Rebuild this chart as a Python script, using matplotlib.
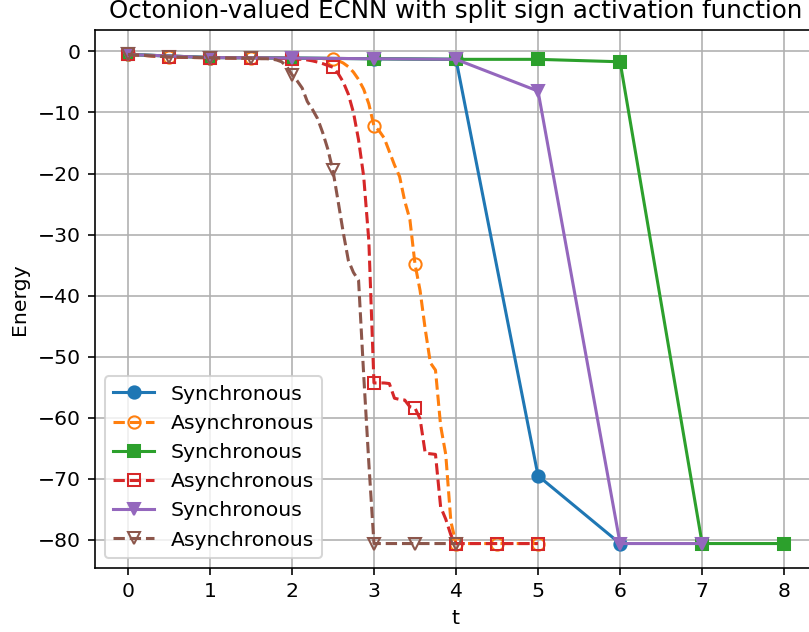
import numpy as np
import matplotlib
matplotlib.use("Agg")
import matplotlib.pyplot as plt

# synchronous updates: one value per time step
t_sync_1 = [0, 1, 2, 3, 4, 5, 6]
e_sync_1 = [-0.5, -1.0, -1.1, -1.2, -1.3, -69.5, -80.6]
t_sync_2 = [0, 1, 2, 3, 4, 5, 6, 7, 8]
e_sync_2 = [-0.5, -1.0, -1.1, -1.2, -1.3, -1.3, -1.7, -80.6, -80.6]
t_sync_3 = [0, 1, 2, 3, 4, 5, 6, 7]
e_sync_3 = [-0.5, -1.0, -1.1, -1.2, -1.3, -6.5, -80.6, -80.6]

# asynchronous updates: one value per neuron update (16 per time step)
steps_per_t = 16
e_async_1 = [-0.5, -0.55, -0.6, -0.65, -0.7, -0.75, -0.8, -0.85, -0.9,
             -0.92, -0.94, -0.96, -0.98, -1.0, -1.01, -1.02, -1.03,
             -1.04, -1.05, -1.06, -1.07, -1.08, -1.09, -1.1, -1.1,
             -1.11, -1.12, -1.13, -1.14, -1.15, -1.15, -1.16, -1.16,
             -1.17, -1.17, -1.18, -1.18, -1.19, -1.2, -1.22, -1.25,
             -1.5, -1.9, -2.5, -3.4, -4.6, -6.2, -8.6, -12.2,
             -13.0, -14.2, -16.4, -18.6, -20.5, -24.5, -27.5, -34.8,
             -39.2, -45.5, -51.0, -52.2, -61.3, -66.0, -77.0, -80.6] + [-80.6] * 16
e_async_2 = [-0.5, -0.55, -0.6, -0.65, -0.7, -0.75, -0.8, -0.85, -0.9,
             -0.92, -0.94, -0.96, -0.98, -1.0, -1.01, -1.02, -1.03,
             -1.04, -1.05, -1.06, -1.07, -1.08, -1.09, -1.1, -1.1,
             -1.11, -1.12, -1.13, -1.14, -1.15, -1.15, -1.16, -1.2,
             -1.25, -1.3, -1.4, -1.55, -1.75, -2.0, -2.3, -2.6,
             -3.6, -5.0, -7.0, -10.0, -14.5, -20.5, -31.0, -54.3,
             -54.3, -54.3, -54.4, -56.8, -57.0, -57.1, -58.2, -58.4,
             -60.2, -65.8, -65.9, -66.0, -74.6, -76.6, -79.2, -80.6] + [-80.6] * 16
e_async_3 = [-0.5, -0.55, -0.6, -0.65, -0.7, -0.75, -0.8, -0.85, -0.9,
             -0.92, -0.94, -0.96, -0.98, -1.0, -1.01, -1.02, -1.03,
             -1.04, -1.05, -1.06, -1.07, -1.08, -1.09, -1.1, -1.1,
             -1.15, -1.2, -1.2, -1.25, -1.4, -1.7, -2.5, -3.8,
             -4.8, -6.0, -8.2, -9.5, -11.0, -13.3, -16.0, -19.5,
             -24.5, -29.6, -34.2, -36.2, -37.5, -53.0, -67.4, -80.6] + [-80.6] * 16

t_async_1 = np.arange(len(e_async_1)) / steps_per_t
t_async_2 = np.arange(len(e_async_2)) / steps_per_t
t_async_3 = np.arange(len(e_async_3)) / steps_per_t

dpi = 147
fig = plt.figure(figsize=(809 / dpi, 632 / dpi), dpi=dpi)
ax = fig.add_axes([95 / 809, 1 - 568 / 632, 722 / 809, 538 / 632])

mk = steps_per_t // 2
ax.plot(t_sync_1, e_sync_1, '-', color='C0', marker='o', label='Synchronous')
ax.plot(t_async_1, e_async_1, '--', color='C1', marker='o', mfc='none', markevery=mk, label='Asynchronous')
ax.plot(t_sync_2, e_sync_2, '-', color='C2', marker='s', label='Synchronous')
ax.plot(t_async_2, e_async_2, '--', color='C3', marker='s', mfc='none', markevery=mk, label='Asynchronous')
ax.plot(t_sync_3, e_sync_3, '-', color='C4', marker='v', label='Synchronous')
ax.plot(t_async_3, e_async_3, '--', color='C5', marker='v', mfc='none', markevery=mk, label='Asynchronous')

ax.set_title('Octonion-valued ECNN with split sign activation function')
ax.set_xlabel('t')
ax.set_ylabel('Energy')
ax.grid(True)
ax.legend(loc='lower left')

fig.savefig('out.png', dpi=dpi)
